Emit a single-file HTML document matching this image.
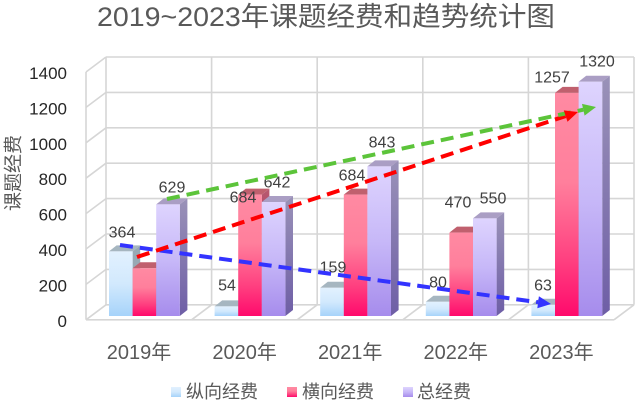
<!DOCTYPE html>
<html>
<head>
<meta charset="utf-8">
<style>
html,body{margin:0;padding:0;background:#fff;}
svg{display:block;}
text{font-family:"Liberation Sans","Noto Sans CJK SC",sans-serif;}
</style>
</head>
<body>
<svg width="640" height="406" viewBox="0 0 640 406" xmlns="http://www.w3.org/2000/svg">
<defs>
  <linearGradient id="gB" x1="0" y1="0" x2="0" y2="1">
    <stop offset="0" stop-color="#e2f1fe"/>
    <stop offset="0.5" stop-color="#d2e9fd"/>
    <stop offset="1" stop-color="#a6d3fa"/>
  </linearGradient>
  <linearGradient id="gR" x1="0" y1="0" x2="0" y2="1">
    <stop offset="0" stop-color="#ff8aa2"/>
    <stop offset="0.4" stop-color="#ff7f9c"/>
    <stop offset="0.75" stop-color="#ff4080"/>
    <stop offset="1" stop-color="#ff0a6c"/>
  </linearGradient>
  <linearGradient id="gP" x1="0" y1="0" x2="0" y2="1">
    <stop offset="0" stop-color="#ded4fe"/>
    <stop offset="0.5" stop-color="#c7b8f8"/>
    <stop offset="1" stop-color="#a68cec"/>
  </linearGradient>
  <linearGradient id="gPs" x1="0" y1="0" x2="0" y2="1">
    <stop offset="0" stop-color="#9a92b8"/>
    <stop offset="1" stop-color="#6e5ea6"/>
  </linearGradient>
  <linearGradient id="gRs" x1="0" y1="0" x2="0" y2="1">
    <stop offset="0" stop-color="#b85a70"/>
    <stop offset="1" stop-color="#a0104c"/>
  </linearGradient>
</defs>

<!-- Title -->
<text x="97" y="26" font-size="27" fill="#595959" textLength="458" lengthAdjust="spacingAndGlyphs">2019~2023年课题经费和趋势统计图</text>

<!-- Grid -->
<g stroke="#d6d6d6" stroke-width="1.6" fill="none">
  <line x1="106" y1="57" x2="634" y2="57"/>
  <line x1="106" y1="92.4" x2="634" y2="92.4"/>
  <line x1="106" y1="127.8" x2="634" y2="127.8"/>
  <line x1="106" y1="163.2" x2="634" y2="163.2"/>
  <line x1="106" y1="198.6" x2="634" y2="198.6"/>
  <line x1="106" y1="234" x2="634" y2="234"/>
  <line x1="106" y1="269.4" x2="634" y2="269.4"/>
  <line x1="106" y1="304.8" x2="634" y2="304.8"/>

  <line x1="86" y1="72" x2="106" y2="57"/>
  <line x1="86" y1="107.4" x2="106" y2="92.4"/>
  <line x1="86" y1="142.8" x2="106" y2="127.8"/>
  <line x1="86" y1="178.2" x2="106" y2="163.2"/>
  <line x1="86" y1="213.6" x2="106" y2="198.6"/>
  <line x1="86" y1="249" x2="106" y2="234"/>
  <line x1="86" y1="284.4" x2="106" y2="269.4"/>
  <line x1="86" y1="319.8" x2="106" y2="304.8"/>

  <line x1="106" y1="57" x2="106" y2="304.8"/>
  <line x1="211.6" y1="57" x2="211.6" y2="304.8"/>
  <line x1="317.2" y1="57" x2="317.2" y2="304.8"/>
  <line x1="422.8" y1="57" x2="422.8" y2="304.8"/>
  <line x1="528.4" y1="57" x2="528.4" y2="304.8"/>
  <line x1="634" y1="57" x2="634" y2="304.8"/>
  <line x1="86" y1="72" x2="86" y2="319.8"/>

  <line x1="86" y1="319.8" x2="614" y2="319.8"/>
  <line x1="191.6" y1="319.8" x2="211.6" y2="304.8"/>
  <line x1="297.2" y1="319.8" x2="317.2" y2="304.8"/>
  <line x1="402.8" y1="319.8" x2="422.8" y2="304.8"/>
  <line x1="508.4" y1="319.8" x2="528.4" y2="304.8"/>
  <line x1="614" y1="319.8" x2="634" y2="304.8"/>
</g>

<!-- Bars -->
<g>
  <!-- 2019 -->
  <polygon points="109,251.4 132.6,251.4 140.2,245.4 116.6,245.4" fill="#a6b6c0"/>
  <polygon points="132.6,251.4 140.2,245.4 140.2,310 132.6,316" fill="#98a9b4"/>
  <rect x="109" y="251.4" width="23.6" height="64.6" fill="url(#gB)"/>
  <polygon points="132.6,268.3 156.2,268.3 163.8,262.3 140.2,262.3" fill="#c0606e"/>
  <polygon points="156.2,268.3 163.8,262.3 163.8,310 156.2,316" fill="url(#gRs)"/>
  <rect x="132.6" y="268.3" width="23.6" height="47.7" fill="url(#gR)"/>
  <polygon points="156.2,204.4 179.8,204.4 187.4,198.4 163.8,198.4" fill="#aa9ec4"/>
  <polygon points="179.8,204.4 187.4,198.4 187.4,310 179.8,316" fill="url(#gPs)"/>
  <rect x="156.2" y="204.4" width="23.6" height="111.6" fill="url(#gP)"/>

  <!-- 2020 -->
  <polygon points="214.6,306.4 238.2,306.4 245.8,300.4 222.2,300.4" fill="#a6b6c0"/>
  <polygon points="238.2,306.4 245.8,300.4 245.8,310 238.2,316" fill="#98a9b4"/>
  <rect x="214.6" y="306.4" width="23.6" height="9.6" fill="url(#gB)"/>
  <polygon points="238.2,194.6 261.8,194.6 269.4,188.6 245.8,188.6" fill="#c0606e"/>
  <polygon points="261.8,194.6 269.4,188.6 269.4,310 261.8,316" fill="url(#gRs)"/>
  <rect x="238.2" y="194.6" width="23.6" height="121.4" fill="url(#gR)"/>
  <polygon points="261.8,202 285.4,202 293,196 269.4,196" fill="#aa9ec4"/>
  <polygon points="285.4,202 293,196 293,310 285.4,316" fill="url(#gPs)"/>
  <rect x="261.8" y="202" width="23.6" height="114" fill="url(#gP)"/>

  <!-- 2021 -->
  <polygon points="320.2,287.8 343.8,287.8 351.4,281.8 327.8,281.8" fill="#a6b6c0"/>
  <polygon points="343.8,287.8 351.4,281.8 351.4,310 343.8,316" fill="#98a9b4"/>
  <rect x="320.2" y="287.8" width="23.6" height="28.2" fill="url(#gB)"/>
  <polygon points="343.8,194.6 367.4,194.6 375,188.6 351.4,188.6" fill="#c0606e"/>
  <polygon points="367.4,194.6 375,188.6 375,310 367.4,316" fill="url(#gRs)"/>
  <rect x="343.8" y="194.6" width="23.6" height="121.4" fill="url(#gR)"/>
  <polygon points="367.4,166.4 391,166.4 398.6,160.4 375,160.4" fill="#aa9ec4"/>
  <polygon points="391,166.4 398.6,160.4 398.6,310 391,316" fill="url(#gPs)"/>
  <rect x="367.4" y="166.4" width="23.6" height="149.6" fill="url(#gP)"/>

  <!-- 2022 -->
  <polygon points="425.8,301.8 449.4,301.8 457,295.8 433.4,295.8" fill="#a6b6c0"/>
  <polygon points="449.4,301.8 457,295.8 457,310 449.4,316" fill="#98a9b4"/>
  <rect x="425.8" y="301.8" width="23.6" height="14.2" fill="url(#gB)"/>
  <polygon points="449.4,232.6 473,232.6 480.6,226.6 457,226.6" fill="#c0606e"/>
  <polygon points="473,232.6 480.6,226.6 480.6,310 473,316" fill="url(#gRs)"/>
  <rect x="449.4" y="232.6" width="23.6" height="83.4" fill="url(#gR)"/>
  <polygon points="473,218.4 496.6,218.4 504.2,212.4 480.6,212.4" fill="#aa9ec4"/>
  <polygon points="496.6,218.4 504.2,212.4 504.2,310 496.6,316" fill="url(#gPs)"/>
  <rect x="473" y="218.4" width="23.6" height="97.6" fill="url(#gP)"/>

  <!-- 2023 -->
  <polygon points="531.4,304.8 555,304.8 562.6,298.8 539,298.8" fill="#a6b6c0"/>
  <polygon points="555,304.8 562.6,298.8 562.6,310 555,316" fill="#98a9b4"/>
  <rect x="531.4" y="304.8" width="23.6" height="11.2" fill="url(#gB)"/>
  <polygon points="555,92.9 578.6,92.9 586.2,86.9 562.6,86.9" fill="#c0606e"/>
  <polygon points="578.6,92.9 586.2,86.9 586.2,310 578.6,316" fill="url(#gRs)"/>
  <rect x="555" y="92.9" width="23.6" height="223.1" fill="url(#gR)"/>
  <polygon points="578.6,81.7 602.2,81.7 609.8,75.7 586.2,75.7" fill="#aa9ec4"/>
  <polygon points="602.2,81.7 609.8,75.7 609.8,310 602.2,316" fill="url(#gPs)"/>
  <rect x="578.6" y="81.7" width="23.6" height="234.3" fill="url(#gP)"/>
</g>

<!-- Data labels -->
<g font-size="16" fill="#404040" text-anchor="middle">
  <text x="122" y="237.7">364</text>
  <text x="172" y="192.7">629</text>
  <text x="227" y="290.7">54</text>
  <text x="243" y="202.7">684</text>
  <text x="277" y="187.7">642</text>
  <text x="333" y="272.7">159</text>
  <text x="352" y="180.7">684</text>
  <text x="382" y="147.7">843</text>
  <text x="438" y="287.7">80</text>
  <text x="458" y="207.7">470</text>
  <text x="493" y="203.7">550</text>
  <text x="543" y="290.7">63</text>
  <text x="552" y="82.7">1257</text>
  <text x="597" y="66.7">1320</text>
</g>

<!-- Trend arrows -->
<g fill="none" stroke-width="4" stroke-dasharray="13 7">
  <line x1="120" y1="245" x2="538.1" y2="302.2" stroke="#3333ff"/>
  <line x1="137" y1="257" x2="565.6" y2="116.1" stroke="#ff0000"/>
  <line x1="167" y1="199" x2="583.3" y2="109.7" stroke="#5cc43a"/>
</g>
<polygon points="551,304 537.3,308.2 538.9,296.3" fill="#3333ff"/>
<polygon points="578,112 567.5,121.8 563.8,110.4" fill="#ff0000"/>
<polygon points="596,107 584.6,115.6 582,103.9" fill="#5cc43a"/>

<!-- Y axis tick labels -->
<g font-size="17" fill="#262626" text-anchor="end">
  <text x="67" y="79">1400</text>
  <text x="67" y="114.4">1200</text>
  <text x="67" y="149.8">1000</text>
  <text x="67" y="185.2">800</text>
  <text x="67" y="220.6">600</text>
  <text x="67" y="256">400</text>
  <text x="67" y="291.4">200</text>
  <text x="67" y="326.8">0</text>
</g>

<!-- Y axis title -->
<text x="0" y="0" font-size="19" fill="#595959" text-anchor="middle" transform="translate(19.5,173) rotate(-90)">课题经费</text>

<!-- X labels -->
<g font-size="20" fill="#595959" text-anchor="middle">
  <text x="139" y="359">2019年</text>
  <text x="244.6" y="359">2020年</text>
  <text x="350.2" y="359">2021年</text>
  <text x="455.8" y="359">2022年</text>
  <text x="561.4" y="359">2023年</text>
</g>

<!-- Legend -->
<rect x="171" y="387" width="10" height="10" fill="url(#gB)"/>
<rect x="287" y="387" width="10" height="10" fill="url(#gR)"/>
<rect x="403" y="387" width="10" height="10" fill="url(#gP)"/>
<g font-size="18" fill="#595959">
  <text x="186" y="398">纵向经费</text>
  <text x="302" y="398">横向经费</text>
  <text x="417" y="398">总经费</text>
</g>
</svg>
</body>
</html>
